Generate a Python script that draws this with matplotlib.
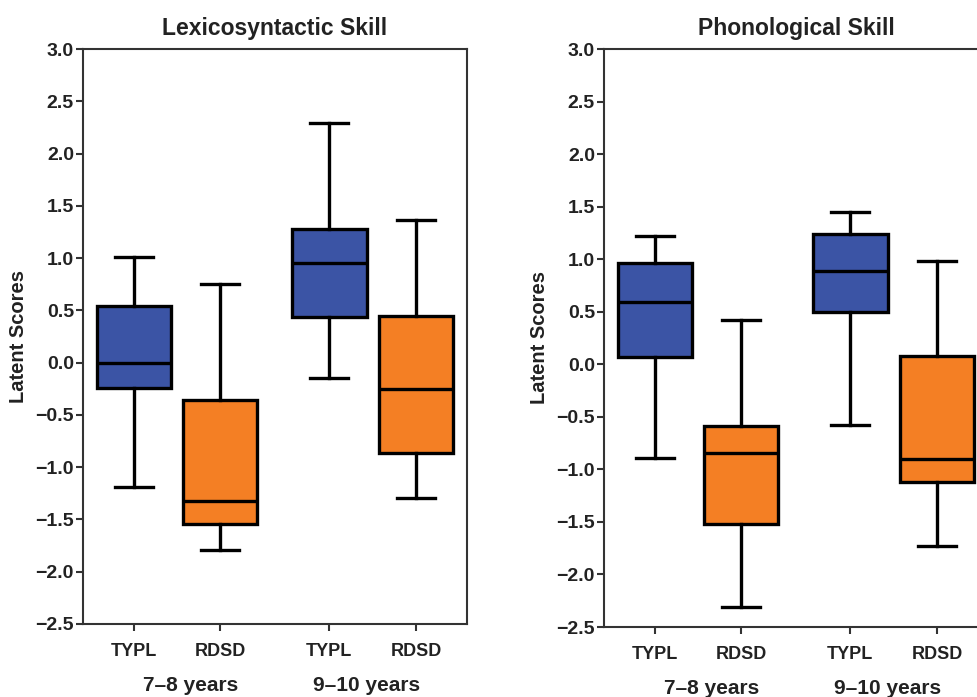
import matplotlib
matplotlib.use("Agg")
import matplotlib.pyplot as plt
from matplotlib.transforms import blended_transform_factory

plt.rcParams['font.family'] = ['Liberation Sans', 'DejaVu Sans']
plt.rcParams['font.weight'] = 'bold'

groups = ["TYPL", "RDSD", "TYPL", "RDSD"]
age_labels = ["7\u20138 years", "9\u201310 years"]
colors = ["#3B54A5", "#F47F24", "#3B54A5", "#F47F24"]

# Lexicosyntactic Skill: whisker low, Q1, median, Q3, whisker high
lex_low = [-1.19, -1.79, -0.15, -1.29]
lex_q1 = [-0.24, -1.54, 0.44, -0.86]
lex_med = [0.00, -1.32, 0.95, -0.25]
lex_q3 = [0.54, -0.36, 1.28, 0.45]
lex_high = [1.01, 0.75, 2.29, 1.36]

# Phonological Skill
pho_low = [-0.89, -2.31, -0.58, -1.73]
pho_q1 = [0.07, -1.52, 0.50, -1.12]
pho_med = [0.59, -0.84, 0.89, -0.90]
pho_q3 = [0.96, -0.59, 1.24, 0.08]
pho_high = [1.22, 0.42, 1.45, 0.98]

positions = [1, 2, 3.27, 4.28]
age_pos = [1.663, 3.71]

W, H = 978, 697
fig = plt.figure(figsize=(W / 100, H / 100), dpi=100)

panels = [
    ("Lexicosyntactic Skill", (lex_low, lex_q1, lex_med, lex_q3, lex_high), [83, 49, 467, 624]),
    ("Phonological Skill", (pho_low, pho_q1, pho_med, pho_q3, pho_high), [604, 49, 988, 627]),
]

for title, (lo, q1, med, q3, hi), (x0, y0, x1, y1) in panels:
    ax = fig.add_axes([x0 / W, 1 - y1 / H, (x1 - x0) / W, (y1 - y0) / H])
    stats = []
    for i in range(4):
        stats.append(dict(whislo=lo[i], q1=q1[i], med=med[i], q3=q3[i], whishi=hi[i], fliers=[]))
    bp = ax.bxp(stats, positions=positions, widths=0.87, patch_artist=True, showfliers=False,
                boxprops=dict(linewidth=2.4, edgecolor='black'),
                medianprops=dict(color='black', linewidth=2.4),
                whiskerprops=dict(color='black', linewidth=2.4),
                capprops=dict(color='black', linewidth=2.4),
                capwidths=0.44)
    for patch, c in zip(bp['boxes'], colors):
        patch.set_facecolor(c)
    ax.set_xlim(0.407, 4.873)
    ax.set_ylim(-2.5, 3.0)
    ax.set_yticks([-2.5, -2.0, -1.5, -1.0, -0.5, 0.0, 0.5, 1.0, 1.5, 2.0, 2.5, 3.0])
    ax.set_yticklabels([f"{v:.1f}".replace("-", "\u2212") for v in ax.get_yticks()])
    ax.set_xticks(positions)
    ax.set_xticklabels(groups)
    ax.tick_params(axis='both', labelsize=13, width=1.5, length=5, color='#333333')
    ax.tick_params(axis='y', labelsize=14, pad=1.5)
    ax.tick_params(axis='x', pad=9)
    for lab in ax.get_xticklabels() + ax.get_yticklabels():
        lab.set_fontweight('bold')
        lab.set_color('#222222')
    for sp in ax.spines.values():
        sp.set_linewidth(1.5)
        sp.set_color('#333333')
    ax.set_title(title, fontsize=16.5, fontweight='bold', pad=10, color='#222222')
    ax.set_ylabel("Latent Scores", fontsize=14.5, fontweight='bold', labelpad=5, color='#222222')
    tr = blended_transform_factory(ax.transData, ax.transAxes)
    for xp, lab in zip(age_pos, age_labels):
        ax.text(xp, -0.107, lab, transform=tr,
                ha='center', va='center', fontsize=15, fontweight='bold', color='#222222')

fig.savefig("out.png", dpi=100)
